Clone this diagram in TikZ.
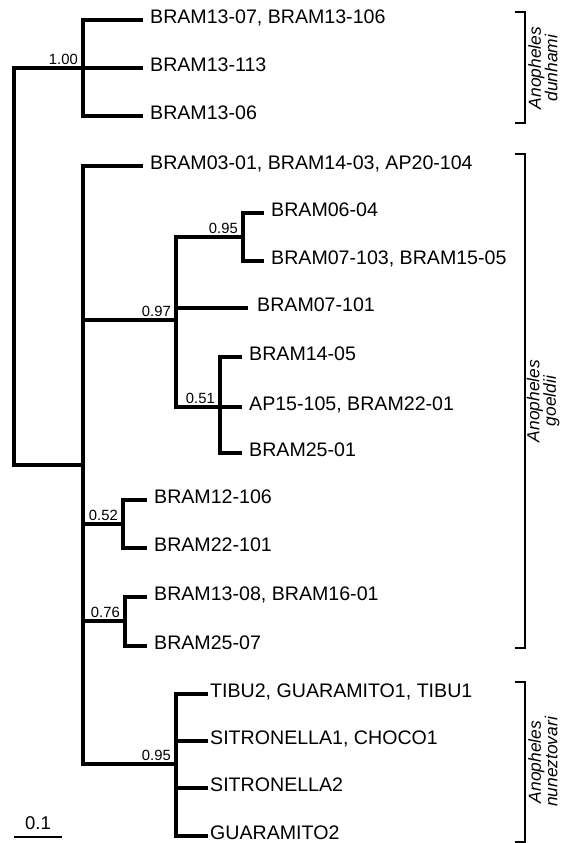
\documentclass[tikz,border=0pt]{standalone}
\usepackage{fontspec}
\setmainfont{Liberation Sans}
\begin{document}
\begin{tikzpicture}[
    x=1pt, y=-1pt,
    branch/.style={line width=3.3pt},
    leaf/.style={anchor=west, inner xsep=7pt, inner ysep=0pt, text height=0.72em, text depth=0pt, font=\fontsize{19.6}{22}\selectfont},
    shortleaf/.style={leaf, inner xsep=2pt},
    support/.style={anchor=south east, inner sep=0pt, xshift=-5pt, yshift=3pt, text height=0.72em, text depth=0pt, font=\fontsize{14.8}{16}\selectfont},
    clade/.style={rotate=90, align=center, inner sep=0pt, font=\fontsize{17.4}{16.5}\selectfont\itshape},
    bracket/.style={line width=2.3pt}
  ]
    \useasboundingbox (0,0) rectangle (563,843);

    % inner nodes of the tree
    \coordinate (root) at (14,266);
    \coordinate (n100) at (83,68);
    \coordinate (ngo) at (83,465);
    \coordinate (n097) at (176,320);
    \coordinate (n095) at (243,237);
    \coordinate (n051) at (220,407);
    \coordinate (n052) at (123,524);
    \coordinate (n076) at (125,621);
    \coordinate (nnu) at (176,764);

    % leaves
    \node[leaf] (l1) at (143,20) {BRAM13-07, BRAM13-106};
    \node[leaf] (l2) at (143,68) {BRAM13-113};
    \node[leaf] (l3) at (143,116) {BRAM13-06};
    \node[leaf] (l4) at (143,166) {BRAM03-01, BRAM14-03, AP20-104};
    \node[leaf] (l5) at (264,213) {BRAM06-04};
    \node[leaf] (l6) at (264,261) {BRAM07-103, BRAM15-05};
    \node[leaf, inner xsep=9pt] (l7) at (248,308) {BRAM07-101};
    \node[leaf] (l8) at (242,357) {BRAM14-05};
    \node[leaf] (l9) at (242,407) {AP15-105, BRAM22-01};
    \node[leaf] (l10) at (242,453) {BRAM25-01};
    \node[leaf] (l11) at (147,500) {BRAM12-106};
    \node[leaf] (l12) at (147,548) {BRAM22-101};
    \node[leaf] (l13) at (147,597) {BRAM13-08, BRAM16-01};
    \node[leaf] (l14) at (147,646) {BRAM25-07};
    \node[shortleaf] (l15) at (208,694) {TIBU2, GUARAMITO1, TIBU1};
    \node[shortleaf] (l16) at (208,741) {SITRONELLA1, CHOCO1};
    \node[shortleaf] (l17) at (208,788) {SITRONELLA2};
    \node[shortleaf] (l18) at (208,836) {GUARAMITO2};

    % branches
    \draw[branch] (root) |- (n100);
    \draw[branch] (root) |- (ngo);
    \draw[branch] (n100) |- (l1.west);
    \draw[branch] (n100) |- (l2.west);
    \draw[branch] (n100) |- (l3.west);
    \draw[branch] (ngo) |- (l4.west);
    \draw[branch] (ngo) |- (n097);
    \draw[branch] (ngo) |- (n052);
    \draw[branch] (ngo) |- (n076);
    \draw[branch] (ngo) |- (nnu);
    \draw[branch] (n097) |- (n095);
    \draw[branch] (n097) |- (l7.west);
    \draw[branch] (n097) |- (n051);
    \draw[branch] (n095) |- (l5.west);
    \draw[branch] (n095) |- (l6.west);
    \draw[branch] (n051) |- (l8.west);
    \draw[branch] (n051) |- (l9.west);
    \draw[branch] (n051) |- (l10.west);
    \draw[branch] (n052) |- (l11.west);
    \draw[branch] (n052) |- (l12.west);
    \draw[branch] (n076) |- (l13.west);
    \draw[branch] (n076) |- (l14.west);
    \draw[branch] (nnu) |- (l15.west);
    \draw[branch] (nnu) |- (l16.west);
    \draw[branch] (nnu) |- (l17.west);
    \draw[branch] (nnu) |- (l18.west);

    % support values
    \node[support] (s100) at (n100) {1.00};
    \node[support] (s097) at (n097) {0.97};
    \node[support] (s095) at (n095) {0.95};
    \node[support] (s051) at (n051) {0.51};
    \node[support] (s052) at (n052) {0.52};
    \node[support] (s076) at (n076) {0.76};
    \node[support] (snu) at (nnu) {0.95};

    % scale bar
    \coordinate (sb1) at (14,837);
    \coordinate (sb2) at (62,837);
    \draw[line width=2.6pt] (sb1) -- (sb2);
    \node[anchor=south, inner sep=0pt, yshift=7pt, font=\fontsize{18.5}{20}\selectfont] (sbl) at (38,837) {0.1};

    % clade brackets
    \coordinate (dt) at (525,12);
    \coordinate (db) at (525,123);
    \coordinate (gt) at (525,154);
    \coordinate (gb) at (525,648);
    \coordinate (nt) at (525,682);
    \coordinate (nb) at (525,842);
    \draw[bracket] ([xshift=-10pt]dt) -- (dt) -- (db) -- ([xshift=-10pt]db);
    \draw[bracket] ([xshift=-10pt]gt) -- (gt) -- (gb) -- ([xshift=-10pt]gb);
    \draw[bracket] ([xshift=-10pt]nt) -- (nt) -- (nb) -- ([xshift=-10pt]nb);
    \node[clade] (cdu) at (543,68) {Anopheles\\dunhami};
    \node[clade] (cgo) at (543,401) {Anopheles\\goeldii};
    \node[clade] (cnu) at (543,762) {Anopheles\\nuneztovari};
  \end{tikzpicture}
\end{document}
